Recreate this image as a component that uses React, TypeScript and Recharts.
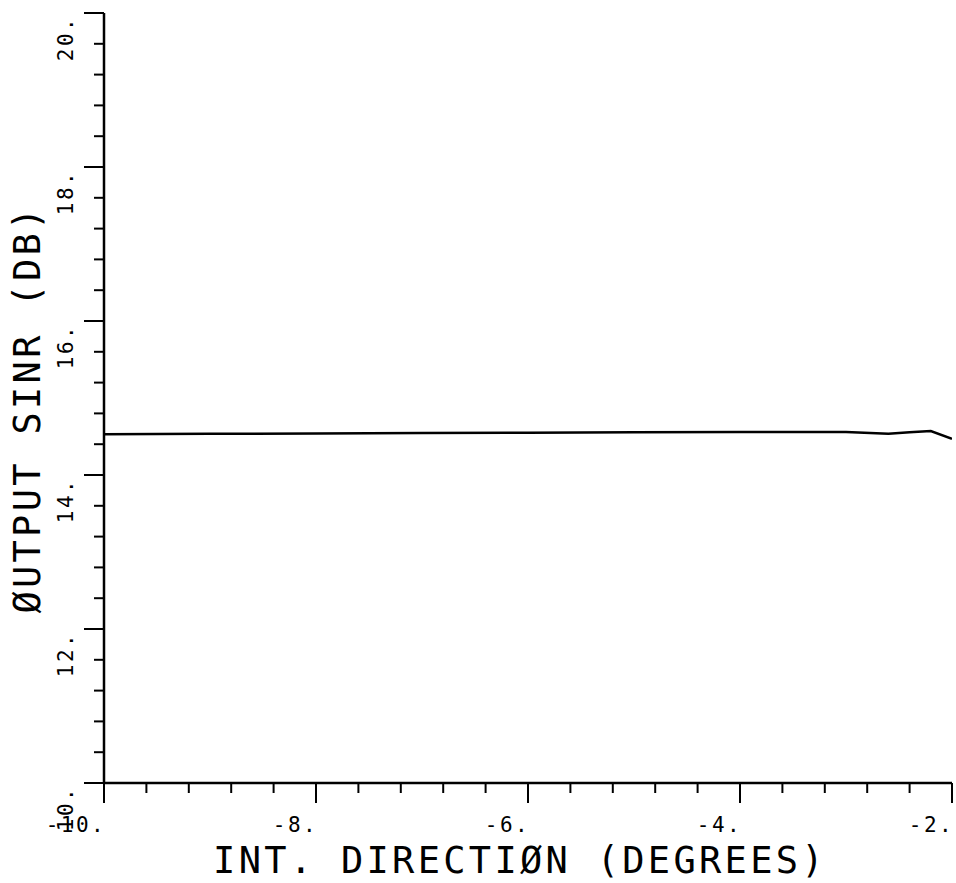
import { LineChart, Line, XAxis, YAxis, Label } from 'recharts';

// interference direction (deg) and output SINR (dB)
const direction = [-10, -9, -8, -7, -6, -5, -4, -3, -2.6, -2.4, -2.2, -2.0];
const sinrDb = [14.53, 14.535, 14.54, 14.545, 14.55, 14.555, 14.56, 14.56, 14.535, 14.555, 14.57, 14.47];

const xTicks = [-10, -9.6, -9.2, -8.8, -8.4, -8, -7.6, -7.2, -6.8, -6.4, -6, -5.6, -5.2, -4.8, -4.4, -4, -3.6, -3.2, -2.8, -2.4, -2];
const xMajor = [-10, -8, -6, -4, -2];
const yTicks = [10, 10.4, 10.8, 11.2, 11.6, 12, 12.4, 12.8, 13.2, 13.6, 14, 14.4, 14.8, 15.2, 15.6, 16, 16.4, 16.8, 17.2, 17.6, 18, 18.4, 18.8, 19.2, 19.6, 20];
const yMajor = [10, 12, 14, 16, 18, 20];

const data = direction.map((d, i) => ({ direction: d, sinr: sinrDb[i] }));

const FONT = '"DejaVu Sans Mono", "Liberation Mono", monospace';
const isMajor = (list: number[], v: number) => list.some(m => Math.abs(m - v) < 1e-6);

function XTick({ x, y, payload }: any) {
  const v = payload.value;
  const major = isMajor(xMajor, v);
  return (
    <g>
      <line x1={x} x2={x} y1={y} y2={y + (major ? 20 : 10)} stroke="#000" strokeWidth={2} />
      {major && (
        <text x={x + 2} y={y + 49} textAnchor="end" fontFamily={FONT} fontSize={21} letterSpacing={2.4} fill="#000">
          {`${Math.round(v)}.`}
        </text>
      )}
    </g>
  );
}

function YTick({ x, y, payload }: any) {
  const v = payload.value;
  const major = isMajor(yMajor, v);
  const lx = x - 31;
  const ly = y + 3;
  return (
    <g>
      <line x1={x} x2={x - (major ? 20 : 10)} y1={y} y2={y} stroke="#000" strokeWidth={2} />
      {major && (
        <text x={lx} y={ly} transform={`rotate(-90 ${lx} ${ly})`} textAnchor="end" fontFamily={FONT} fontSize={21} letterSpacing={2.4} fill="#000">
          {`${Math.round(v)}.`}
        </text>
      )}
    </g>
  );
}

export default function App() {
  return (
    <div style={{ position: 'absolute', left: 0, top: 0, background: '#fff' }}>
      <LineChart width={956} height={883} data={data} margin={{ top: 13, right: 4, bottom: 0, left: 0 }}>
        <XAxis
          dataKey="direction"
          type="number"
          domain={[-10, -2]}
          ticks={xTicks}
          interval={0}
          height={100}
          tickSize={0}
          tickMargin={0}
          tickLine={false}
          axisLine={{ stroke: '#000', strokeWidth: 2.5 }}
          tick={<XTick />}
          allowDataOverflow
        >
          <Label
            content={() => (
              <text x={520} y={873} textAnchor="middle" fontFamily={FONT} fontSize={37} letterSpacing={3.3} fill="#000">
                INT. DIRECTIØN (DEGREES)
              </text>
            )}
          />
        </XAxis>
        <YAxis
          type="number"
          domain={[10, 20]}
          ticks={yTicks}
          interval={0}
          width={104}
          tickSize={0}
          tickMargin={0}
          tickLine={false}
          axisLine={{ stroke: '#000', strokeWidth: 2.5 }}
          tick={<YTick />}
          allowDataOverflow
        >
          <Label
            content={() => (
              <text x={40} y={409} transform="rotate(-90 40 409)" textAnchor="middle" fontFamily={FONT} fontSize={37} letterSpacing={3.3} fill="#000">
                ØUTPUT SINR (DB)
              </text>
            )}
          />
        </YAxis>
        <Line
          type="linear"
          dataKey="sinr"
          stroke="#000"
          strokeWidth={2.5}
          dot={false}
          isAnimationActive={false}
        />
      </LineChart>
    </div>
  );
}
